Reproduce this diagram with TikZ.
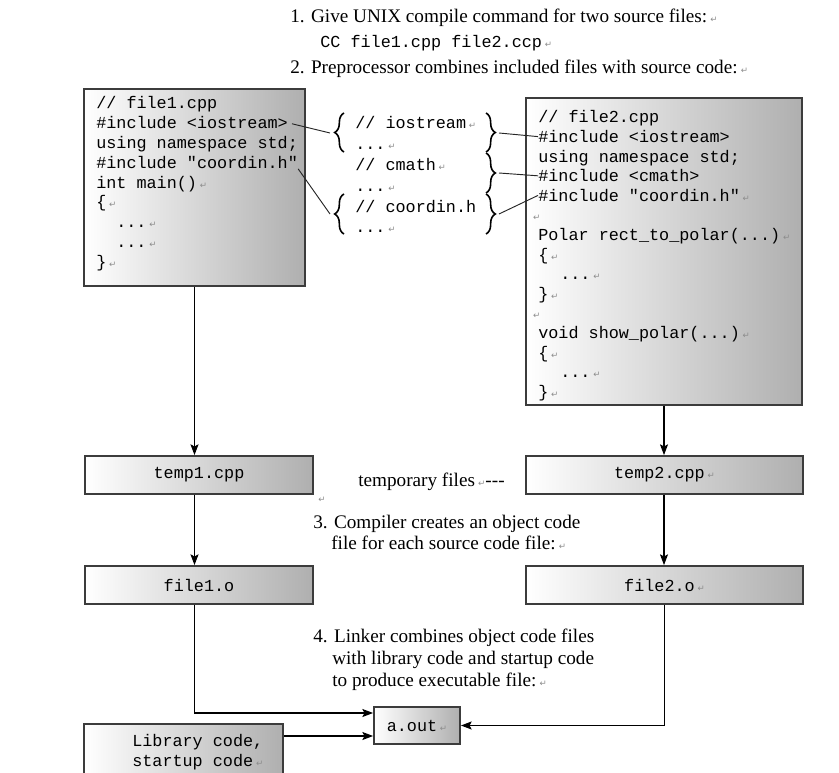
\documentclass[tikz,border=0pt]{standalone}
\usepackage{fontspec}
\setmainfont{Liberation Serif}
\setmonofont{Liberation Mono}
\newfontfamily\symfont{DejaVu Sans}
\usetikzlibrary{decorations.pathreplacing,calc,arrows.meta}
\definecolor{boxedge}{RGB}{60,60,60}
\definecolor{shadeR}{RGB}{175,175,175}
\definecolor{retgray}{RGB}{140,140,140}
\newcommand\ret{\,{\symfont\fontsize{6.5}{6.5}\selectfont\textcolor{retgray}{↵}}}
\begin{document}
\begin{tikzpicture}[x=0.75pt,y=-0.75pt,
  box/.style={draw=boxedge, line width=1.4pt, left color=white, right color=shadeR, inner sep=0pt},
  code/.style={anchor=base west, inner sep=0pt, font=\ttfamily\fontsize{12.6}{12.6}\selectfont},
  lbl/.style={inner sep=0pt, font=\ttfamily\fontsize{12.6}{12.6}\selectfont},
  txt/.style={anchor=base west, inner sep=0pt, font=\fontsize{14.4}{14.4}\selectfont},
  conn/.style={draw=black!85, line width=0.7pt},
  arr/.style={draw=black, line width=0.8pt, -{Stealth[length=8pt,width=6pt,inset=1.5pt]}},
  brc/.style={draw=black, line width=1.2pt, decorate, decoration={brace, amplitude=7pt, aspect=0.5}}]
\useasboundingbox (0,0) rectangle (839,773);

% top texts
\node[txt] (s1) at (290,23) {1. Give UNIX compile command for two source files:\ret};
\node[code] (cmd) at (320,48) {CC file1.cpp file2.ccp\ret};
\node[txt] (s2) at (290,74) {2. Preprocessor combines included files with source code:\ret};

% file1 box
\node[box, minimum width=165.75pt, minimum height=147.75pt] (f1) at (194.5,187.5) {};
\node[code] (a1) at (96,109) {// file1.cpp};
\node[code] (a2) at (96,128.8) {\#include <iostream>};
\node[code] (a3) at (96,148.6) {using namespace std;};
\node[code] (a4) at (96,168.4) {\#include "coordin.h"};
\node[code] (a5) at (96,188.2) {int main()\ret};
\node[code] (a6) at (96,208) {\{\ret};
\node[code] (a7) at (116,227.8) {...\ret};
\node[code] (a8) at (116,247.6) {...\ret};
\node[code] (a9) at (96,267.4) {\}\ret};

% middle included text
\node[code] (m1) at (355,129) {// iostream\ret};
\node[code] (m2) at (355,149.8) {...\ret};
\node[code] (m3) at (355,170.6) {// cmath\ret};
\node[code] (m4) at (355,191.4) {...\ret};
\node[code] (m5) at (355,212.2) {// coordin.h};
\node[code] (m6) at (355,233) {...\ret};

% braces
\draw[brc] (344,152) -- (344,113);
\draw[brc] (344,234) -- (344,194);
\draw[brc] (486,113) -- (486,152);
\draw[brc] (486,153) -- (486,193);
\draw[brc] (486,194) -- (486,234);
\coordinate (lb1) at (330,133);
\coordinate (lb2) at (330,214);
\coordinate (rb1) at (499,133);
\coordinate (rb2) at (499,173);
\coordinate (rb3) at (499,214);

% file2 box
\node[box, minimum width=207pt, minimum height=230.25pt] (f2) at (664,251.5) {};
\node[code] (b1) at (538,123) {// file2.cpp};
\node[code] (b2) at (538,142.6) {\#include <iostream>};
\node[code] (b3) at (538,162.2) {using namespace std;};
\node[code] (b4) at (538,181.8) {\#include <cmath>};
\node[code] (b5) at (538,201.4) {\#include "coordin.h"\ret};
\node[code] (b6) at (530,221) {\ret};
\node[code] (b7) at (538,240.6) {Polar rect\_to\_polar(...)\ret};
\node[code] (b8) at (538,260.2) {\{\ret};
\node[code] (b9) at (560,279.8) {...\ret};
\node[code] (b10) at (538,299.4) {\}\ret};
\node[code] (b11) at (530,319) {\ret};
\node[code] (b12) at (538,338.6) {void show\_polar(...)\ret};
\node[code] (b13) at (538,358.2) {\{\ret};
\node[code] (b14) at (560,377.8) {...\ret};
\node[code] (b15) at (538,397.4) {\}\ret};

% connectors from includes
\draw[conn, shorten <=3pt] (a2.east) -- (lb1);
\draw[conn] (a4.south east) -- (lb2);
\draw[conn] (rb1) -- (b2.west);
\draw[conn] (rb2) -- (b4.west);
\draw[conn] (rb3) -- (b5.west);

% temp files
\node[box, minimum width=171pt, minimum height=28.5pt, lbl] (t1) at (199,475) {temp1.cpp};
\node[box, minimum width=207.75pt, minimum height=28.5pt, lbl] (t2) at (664.5,475) {temp2.cpp\ret};
\node[txt] (tf) at (358,486) {temporary files\ret{}-{}-{}-};
\node[txt] (r0) at (315,503) {\ret};

\node[txt] (s3a) at (313,528) {3. Compiler creates an object code};
\node[txt] (s3b) at (331,549) {file for each source code file:\ret};

% object files
\node[box, minimum width=171pt, minimum height=28.5pt, lbl] (o1) at (199,585) {file1.o};
\node[box, minimum width=207.75pt, minimum height=28.5pt, lbl] (o2) at (664.5,585) {file2.o\ret};

\node[txt] (s4a) at (313,642) {4. Linker combines object code files};
\node[txt] (s4b) at (332,664) {with library code and startup code};
\node[txt] (s4c) at (332,686) {to produce executable file:\ret};

% a.out and library
\node[box, minimum width=64.5pt, minimum height=27.75pt, lbl] (aout) at (417,725.5) {a.out\ret};
\node[box, minimum width=149.25pt, minimum height=42pt] (lib) at (183.5,752) {};
\node[code] (lib1) at (132,746) {Library code,};
\node[code] (lib2) at (132,766) {startup code\ret};
\coordinate (ylow) at (0,736);
\coordinate (yup) at (0,713);

% arrows
\draw[arr] (f1.south) -- (f1.south |- t1.north);
\draw[arr] (f2.south) -- (f2.south |- t2.north);
\draw[arr] (f1.south |- t1.south) -- (f1.south |- o1.north);
\draw[arr] (f2.south |- t2.south) -- (f2.south |- o2.north);
\draw[arr] (f1.south |- o1.south) |- (aout.west |- yup);
\draw[arr] (o2.south) |- (aout.east);
\draw[arr] (lib.east |- ylow) -- (aout.west |- ylow);
\end{tikzpicture}
\end{document}
